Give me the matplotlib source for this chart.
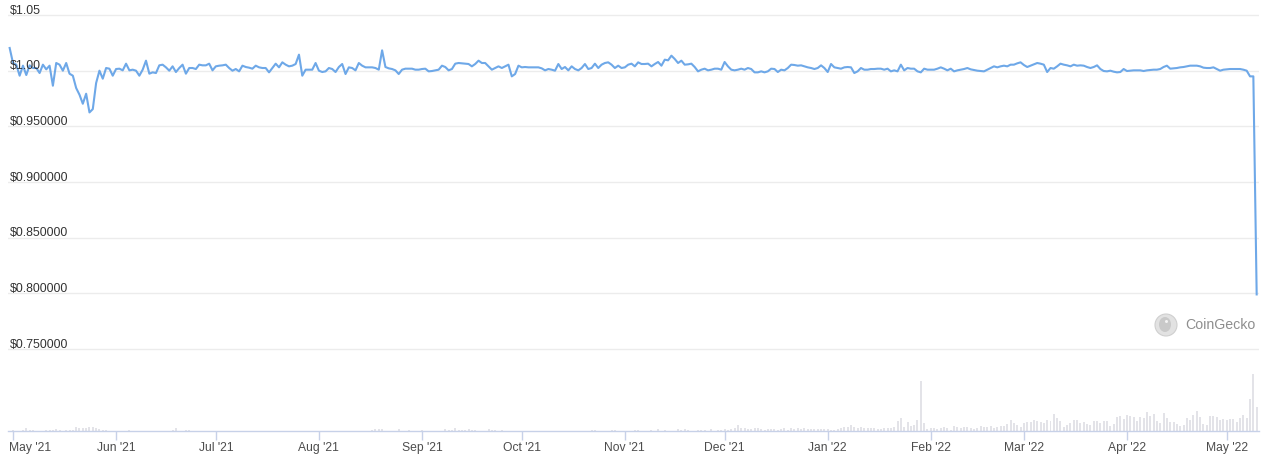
import numpy as np
import pandas as pd
import matplotlib
matplotlib.use('Agg')
import matplotlib.pyplot as plt
import matplotlib.dates as mdates
from matplotlib.patches import Circle, Ellipse
from matplotlib.transforms import ScaledTranslation

# daily close (USD), 30 Apr 2021 -> 10 May 2022
price = [
    1.0204, 1.0069, 1.0054, 0.9955, 1.0045, 0.9961, 1.0048, 1.0024, 1.0024, 0.9979,
    1.0054, 1.0012, 1.0045, 0.9865, 1.0069, 1.0054, 1.0000, 1.0069, 0.9973, 0.9955,
    0.9844, 0.9784, 0.9703, 0.9793, 0.9625, 0.9655, 0.9889, 1.0000, 0.9928, 1.0024,
    1.0018, 0.9955, 1.0015, 1.0018, 1.0003, 1.0063, 1.0003, 1.0009, 1.0000, 0.9955,
    1.0009, 1.0090, 0.9973, 0.9985, 0.9979, 1.0048, 1.0054, 1.0030, 1.0000, 1.0039,
    0.9988, 1.0024, 1.0054, 0.9973, 1.0024, 1.0024, 1.0015, 1.0054, 1.0048, 1.0048,
    1.0063, 1.0003, 1.0039, 1.0045, 1.0048, 1.0054, 1.0024, 1.0000, 1.0015, 0.9994,
    1.0045, 1.0033, 1.0027, 1.0018, 1.0045, 1.0030, 1.0024, 1.0024, 0.9985, 1.0024,
    1.0063, 1.0030, 1.0075, 1.0054, 1.0039, 1.0045, 1.0060, 1.0144, 0.9955, 1.0009,
    1.0009, 1.0009, 1.0069, 1.0000, 0.9988, 0.9994, 1.0024, 1.0015, 0.9988, 1.0033,
    1.0060, 0.9970, 1.0030, 1.0024, 1.0003, 1.0069, 1.0045, 1.0030, 1.0030, 1.0030,
    1.0024, 1.0009, 1.0183, 1.0033, 1.0021, 1.0015, 1.0003, 0.9970, 1.0009, 1.0018,
    1.0018, 1.0018, 1.0009, 1.0009, 1.0015, 1.0018, 0.9994, 0.9997, 1.0003, 1.0009,
    1.0045, 1.0033, 1.0003, 1.0015, 1.0063, 1.0069, 1.0066, 1.0063, 1.0060, 1.0039,
    1.0060, 1.0090, 1.0069, 1.0069, 1.0039, 1.0009, 1.0024, 1.0039, 1.0024, 1.0039,
    1.0054, 0.9949, 0.9970, 1.0045, 1.0030, 1.0033, 1.0030, 1.0030, 1.0030, 1.0030,
    1.0021, 1.0003, 1.0015, 1.0009, 1.0000, 1.0060, 1.0015, 1.0033, 1.0003, 1.0039,
    1.0015, 1.0003, 1.0024, 1.0060, 1.0015, 1.0024, 1.0063, 1.0024, 1.0054, 1.0069,
    1.0075, 1.0054, 1.0024, 1.0045, 1.0024, 1.0030, 1.0054, 1.0063, 1.0039, 1.0075,
    1.0060, 1.0060, 1.0063, 1.0039, 1.0060, 1.0078, 1.0045, 1.0099, 1.0093, 1.0135,
    1.0105, 1.0069, 1.0090, 1.0054, 1.0057, 1.0063, 1.0033, 0.9994, 1.0009, 1.0018,
    1.0003, 1.0009, 1.0018, 1.0018, 1.0009, 1.0078, 1.0039, 1.0009, 1.0003, 1.0009,
    1.0018, 1.0009, 1.0024, 1.0015, 0.9985, 0.9985, 0.9994, 0.9985, 0.9994, 1.0018,
    1.0015, 0.9988, 1.0009, 1.0003, 1.0024, 1.0054, 1.0051, 1.0045, 1.0048, 1.0039,
    1.0030, 1.0024, 1.0015, 1.0024, 1.0048, 1.0024, 0.9988, 1.0060, 1.0030, 1.0024,
    1.0018, 1.0030, 1.0033, 1.0030, 0.9979, 0.9994, 1.0024, 1.0009, 1.0009, 1.0015,
    1.0015, 1.0018, 1.0018, 1.0009, 1.0018, 0.9994, 1.0003, 0.9994, 1.0054, 1.0003,
    1.0024, 1.0018, 1.0018, 0.9994, 0.9985, 1.0018, 1.0009, 1.0009, 1.0009, 1.0018,
    1.0030, 1.0018, 1.0003, 1.0018, 0.9994, 1.0003, 1.0009, 1.0015, 1.0024, 1.0012,
    1.0006, 1.0000, 0.9997, 0.9994, 1.0009, 1.0024, 1.0039, 1.0030, 1.0039, 1.0045,
    1.0039, 1.0054, 1.0054, 1.0066, 1.0075, 1.0051, 1.0033, 1.0045, 1.0057, 1.0069,
    1.0063, 1.0054, 0.9988, 1.0024, 1.0018, 1.0039, 1.0063, 1.0054, 1.0048, 1.0039,
    1.0054, 1.0045, 1.0048, 1.0045, 1.0033, 1.0024, 1.0033, 1.0048, 1.0015, 0.9997,
    0.9994, 1.0000, 0.9991, 0.9985, 0.9988, 1.0015, 0.9997, 1.0000, 1.0003, 1.0003,
    1.0003, 0.9997, 1.0003, 1.0006, 1.0009, 1.0009, 1.0015, 1.0033, 1.0045, 1.0018,
    1.0021, 1.0024, 1.0030, 1.0033, 1.0039, 1.0045, 1.0045, 1.0045, 1.0039, 1.0027,
    1.0024, 1.0024, 1.0030, 1.0015, 1.0000, 1.0009, 1.0012, 1.0015, 1.0015, 1.0015,
    1.0015, 1.0009, 1.0000, 0.9949, 0.9949, 0.7990,
]

# daily volume (relative units)
volume = [
    0.2, 1, 0.2, 0.2, 1, 2.7, 1.3, 1, 0.2, 0.2,
    0.2, 1.3, 1, 1, 2, 1, 0.2, 1, 1, 1,
    4, 2.7, 3.3, 3.3, 4, 4, 2.7, 2, 1.3, 1,
    0.2, 0.2, 0.2, 0.2, 0.2, 0.2, 1, 0.2, 0.2, 0.2,
    0.2, 0.2, 0.2, 0.2, 0.2, 0.2, 0.2, 0.2, 0.2, 1.3,
    3.3, 0.2, 0.2, 1.3, 1.3, 0.2, 0.2, 0.2, 0.2, 0.2,
    0.2, 0.2, 0.2, 0.2, 0.2, 0.2, 0.2, 0.2, 0.2, 0.2,
    0.2, 0.2, 0.2, 0.2, 0.2, 0.2, 0.2, 0.2, 0.2, 0.2,
    0.2, 0.2, 0.2, 0.2, 0.2, 0.2, 0.2, 0.2, 0.2, 0.2,
    0.2, 0.2, 0.2, 0.2, 0.2, 0.2, 0.2, 0.2, 0.2, 0.2,
    0.2, 0.2, 0.2, 0.2, 0.2, 0.2, 0.2, 0.2, 0.2, 1,
    2, 2, 2, 0.2, 0.2, 0.2, 0.2, 2, 0.2, 0.2,
    1, 0.2, 0.2, 0.2, 1, 0.2, 0.2, 0.2, 0.2, 0.2,
    0.2, 2, 1.3, 1.3, 3, 1.3, 1.3, 1.3, 2, 1.3,
    1.3, 0.2, 0.2, 0.2, 2, 1.3, 1.3, 0.2, 1, 0.2,
    0.2, 0.2, 0.2, 0.2, 0.2, 0.2, 0.2, 0.2, 0.2, 0.2,
    0.2, 0.2, 0.2, 0.2, 0.2, 0.2, 0.2, 0.2, 0.2, 0.2,
    0.2, 0.2, 0.2, 0.2, 0.2, 1, 1, 0.2, 0.2, 0.2,
    0.2, 1, 1, 0.2, 0.2, 0.2, 0.2, 0.2, 1, 1,
    0.2, 0.2, 0.2, 1, 0.2, 2, 0.2, 1, 0.2, 0.2,
    0.2, 2, 1.3, 2, 1, 0.2, 0.2, 1, 1, 1,
    0.2, 2, 0.2, 1, 1, 2, 1.3, 2, 3, 6,
    3, 3, 2, 2, 3, 3, 2, 1, 2, 2,
    2, 1, 2, 3, 1, 3, 2, 3, 2, 3,
    2, 2, 2, 2, 2, 2, 2, 1, 1, 2,
    3, 4, 4, 6, 4, 3, 4, 3, 3, 3,
    3, 2, 2, 3, 3, 3, 4, 10, 13, 4,
    9, 5, 6, 11, 50, 8, 2, 3, 3, 2,
    3, 4, 3, 1, 5, 4, 3, 4, 4, 3,
    2, 3, 5, 4, 4, 5, 3, 4, 5, 5,
    7, 11, 8, 6, 4, 8, 9, 9, 11, 10,
    9, 8, 11, 10, 17, 13, 10, 4, 6, 8,
    11, 11, 8, 9, 7, 6, 10, 10, 8, 10,
    10, 5, 7, 14, 15, 12, 16, 15, 14, 10,
    14, 13, 19, 15, 17, 10, 8, 18, 13, 9,
    9, 7, 5, 6, 13, 11, 16, 20, 14, 7,
    6, 15, 15, 14, 11, 12, 11, 12, 12, 9,
    13, 16, 13, 32, 57, 24,
]

grid_levels = [0.75, 0.80, 0.85, 0.90, 0.95, 1.00, 1.05]
grid_labels = ['$0.750000', '$0.800000', '$0.850000', '$0.900000', '$0.950000', '$1.00', '$1.05']

dates = pd.date_range('2021-04-30', periods=len(price), freq='D')

W, H = 1269, 463
fig = plt.figure(figsize=(W / 100, H / 100), dpi=100)
plt.rcParams['font.family'] = ['Liberation Sans', 'DejaVu Sans']

rect = [8 / W, (H - 431) / H, (1259 - 8) / W, 431 / H]

# volume bars underneath
axv = fig.add_axes(rect)
axv.bar(dates, volume, width=0.6, color='#e3e3e8', align='center')
axv.set_ylim(0, 431)
axv.axis('off')

ax = fig.add_axes(rect, sharex=axv)
ax.patch.set_alpha(0)
ax.plot(dates, price, color='#6ea8e8', lw=1.5, zorder=3)
ax.set_ylim(0.6763, 1.0635)
ax.set_xlim(dates[0] - pd.Timedelta(hours=12), dates[0] + pd.Timedelta(days=375.7))

ax.set_yticks(grid_levels)
ax.grid(axis='y', color='#ececec', lw=1)
ax.tick_params(axis='y', left=False, labelleft=False)
for v, lab in zip(grid_levels, grid_labels):
    ax.text(0.0016, v + 0.0012, lab, transform=ax.get_yaxis_transform(),
            ha='left', va='baseline', fontsize=8.9, color='#333333')

for s in ['top', 'left', 'right']:
    ax.spines[s].set_visible(False)
ax.spines['bottom'].set_color('#c7d1e8')
ax.spines['bottom'].set_linewidth(1)

ax.xaxis.set_major_locator(mdates.MonthLocator())
ax.xaxis.set_major_formatter(mdates.DateFormatter("%b '%y"))
ax.tick_params(axis='x', length=6.5, width=1, color='#c7d1e8', pad=1.5,
               labelsize=8.7, labelcolor='#4d4d4d')

# first month label sits inside the left edge
fig.canvas.draw()
first = ax.get_xticklabels()[0]
first.set_horizontalalignment('left')
first.set_transform(first.get_transform() + ScaledTranslation(-0.04, 0, fig.dpi_scale_trans))

# watermark
cx, cy = 11.66, (H - 325) / 100
fig.patches.append(Circle((cx, cy), 0.11, transform=fig.dpi_scale_trans,
                          facecolor='#e2e2e2', edgecolor='#cfcfcf', lw=0.8))
fig.patches.append(Ellipse((cx - 0.01, cy + 0.005), 0.12, 0.15, transform=fig.dpi_scale_trans,
                           facecolor='#c9c9c9', edgecolor='none'))
fig.patches.append(Circle((cx + 0.005, cy + 0.035), 0.015, transform=fig.dpi_scale_trans,
                          facecolor='#f4f4f4', edgecolor='none'))
fig.text(1185 / W, (H - 325) / H, 'CoinGecko', ha='left', va='center',
         fontsize=10.2, color='#8e8e8e')

fig.savefig('out.png', dpi=100)
